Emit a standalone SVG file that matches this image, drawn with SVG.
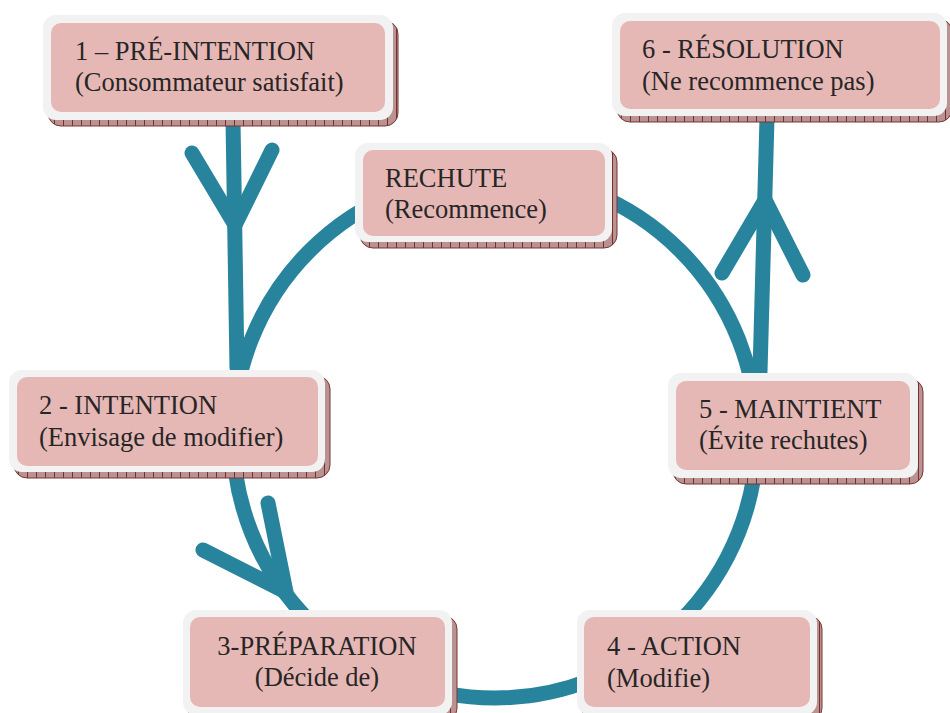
<svg xmlns="http://www.w3.org/2000/svg" width="950" height="713" viewBox="0 0 950 713">
<defs>
<pattern id="hatch" patternUnits="userSpaceOnUse" width="9" height="9">
<rect width="9" height="9" fill="#b99292"/>
<line x1="0.5" y1="0" x2="0.5" y2="9" stroke="#7a2f2f" stroke-width="1"/>
</pattern>
</defs>
<style>
.sh{fill:url(#hatch);stroke:#7a3535;stroke-width:1}
.out{fill:#f2f2f2}
.in{fill:#e6b8b5}
.t{font-family:"Liberation Serif","Times New Roman",serif;font-size:26.5px;fill:#262626}
.c{fill:none;stroke:#28849c;stroke-width:15;stroke-linecap:round;stroke-linejoin:round}
</style>
<rect width="950" height="713" fill="#ffffff"/>
<g id="connectors">
<circle class="c" cx="495" cy="436" r="262"/>
<line class="c" x1="233" y1="120" x2="237" y2="368"/>
<polyline class="c" points="192,153 235,225 272,150"/>
<polyline class="c" points="203,550 286,592 268,503"/>
<line class="c" x1="760" y1="372" x2="767" y2="118"/>
<polyline class="c" points="722,273 765,200 803,275"/>
</g>
<g id="n1">
<rect class="sh" x="48" y="21" width="350" height="105" rx="13"/>
<rect class="out" x="43" y="15" width="350" height="105" rx="13"/>
<rect class="in" x="51" y="23" width="334" height="89" rx="10"/>
<text class="t" x="75" y="60">1 – PRÉ-INTENTION</text>
<text class="t" x="75" y="91">(Consommateur satisfait)</text>
</g>
<g id="n6">
<rect class="sh" x="617" y="19" width="335" height="103" rx="13"/>
<rect class="out" x="612" y="13" width="335" height="103" rx="13"/>
<rect class="in" x="620" y="21" width="320" height="88" rx="10"/>
<text class="t" x="642" y="58">6 - RÉSOLUTION</text>
<text class="t" x="642" y="90">(Ne recommence pas)</text>
</g>
<g id="rechute">
<rect class="sh" x="360" y="149" width="257" height="99" rx="13"/>
<rect class="out" x="355" y="143" width="257" height="99" rx="13"/>
<rect class="in" x="363" y="150" width="242" height="86" rx="10"/>
<text class="t" x="385" y="187">RECHUTE</text>
<text class="t" x="385" y="218">(Recommence)</text>
</g>
<g id="n2">
<rect class="sh" x="14" y="376" width="316" height="102" rx="13"/>
<rect class="out" x="9" y="370" width="316" height="102" rx="13"/>
<rect class="in" x="17" y="377" width="301" height="89" rx="10"/>
<text class="t" x="39" y="414">2 - INTENTION</text>
<text class="t" x="39" y="446">(Envisage de modifier)</text>
</g>
<g id="n5">
<rect class="sh" x="673" y="379" width="250" height="105" rx="13"/>
<rect class="out" x="668" y="373" width="250" height="105" rx="13"/>
<rect class="in" x="676" y="381" width="234" height="89" rx="10"/>
<text class="t" x="699" y="418">5 - MAINTIENT</text>
<text class="t" x="699" y="449">(Évite rechutes)</text>
</g>
<g id="n3">
<rect class="sh" x="188" y="616" width="269" height="105" rx="13"/>
<rect class="out" x="183" y="610" width="269" height="105" rx="13"/>
<rect class="in" x="190" y="617" width="255" height="90" rx="10"/>
<text class="t" x="317" y="655" text-anchor="middle">3-PRÉPARATION</text>
<text class="t" x="317" y="686" text-anchor="middle">(Décide de)</text>
</g>
<g id="n4">
<rect class="sh" x="582" y="616" width="240" height="105" rx="13"/>
<rect class="out" x="577" y="610" width="240" height="105" rx="13"/>
<rect class="in" x="584" y="617" width="226" height="90" rx="10"/>
<text class="t" x="607" y="655">4 - ACTION</text>
<text class="t" x="607" y="687">(Modifie)</text>
</g>
</svg>
